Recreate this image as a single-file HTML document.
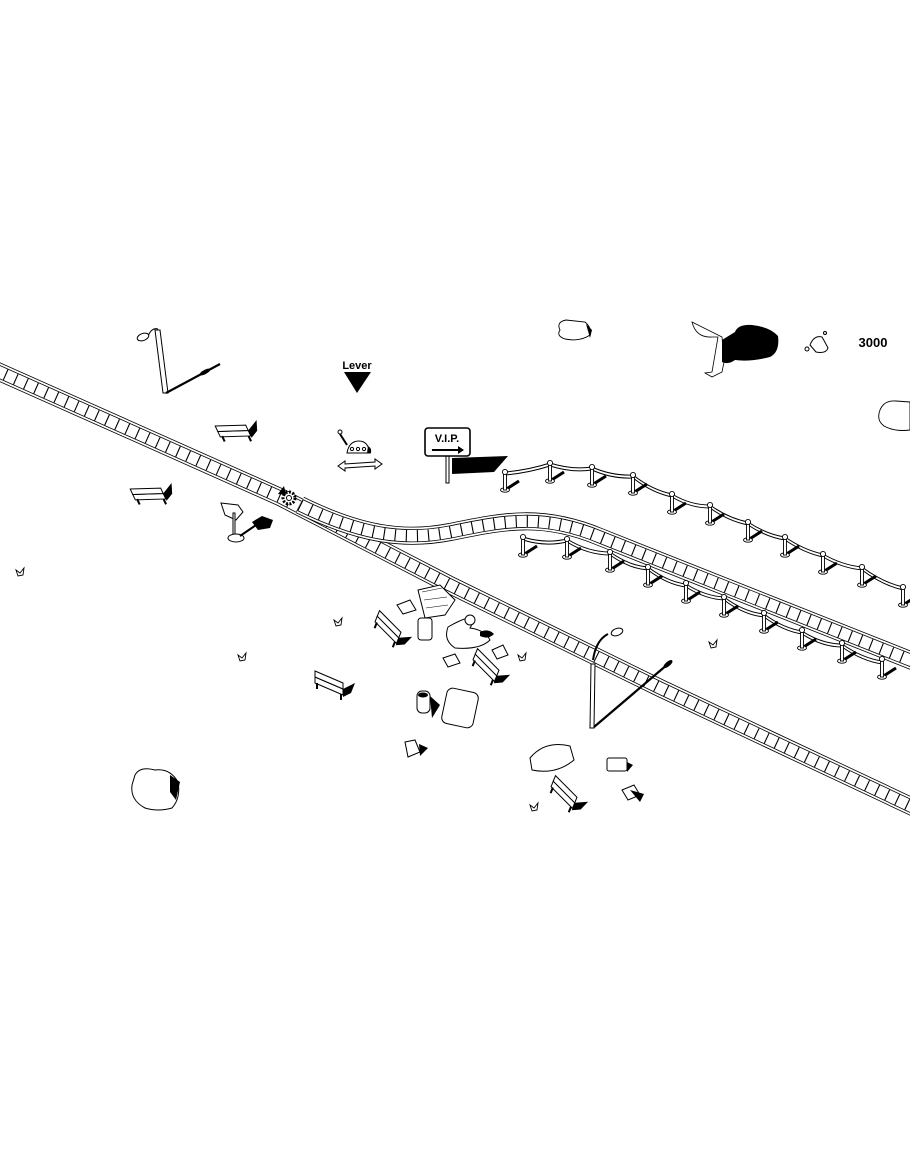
<!DOCTYPE html>
<html><head><meta charset="utf-8"><style>
html,body{margin:0;padding:0;background:#fff;}
svg{display:block;}
</style></head><body>
<svg width="910" height="1155" viewBox="0 0 910 1155" xmlns="http://www.w3.org/2000/svg">
<defs>
<g id="post">
  <path d="M0,0 L14,-9" stroke="#000" stroke-width="3"/>
  <ellipse cx="0" cy="0" rx="4.5" ry="2.2" fill="#fff" stroke="#000" stroke-width="0.9"/>
  <rect x="-1.5" y="-17" width="3" height="17" fill="#fff" stroke="#000" stroke-width="0.9"/>
  <circle cx="0" cy="-18" r="2.6" fill="#fff" stroke="#000" stroke-width="0.9"/>
</g>
<g id="bench">
  <path d="M-14,-6 L14,6 L14,12 L-14,0 Z" fill="#fff" stroke="#000" stroke-width="1"/>
  <path d="M-14,-12 L14,0 L14,6 L-14,-6 Z" fill="#fff" stroke="#000" stroke-width="1"/>
  <path d="M-12,0 L-12,6 M12,11 L12,17" stroke="#000" stroke-width="2"/>
  <path d="M14,6 L26,0 L22,10 L14,14 Z" fill="#000"/>
</g>
<g id="bird">
  <path d="M0,0 L4,3 L8,-2 L7,5 L2,6 Z" fill="#fff" stroke="#000" stroke-width="0.9"/>
</g>
<path id="p1" d="M-5,370 L280,497 L450,585 L660,688 L915,808"/>
<path id="p2" d="M300,505 C355,532 400,542 450,532 S540,512 600,537 L915,662"/>
</defs>

<g fill="none">
<use href="#p1" stroke="#000" stroke-width="18"/>
<use href="#p1" stroke="#fff" stroke-width="16.4"/>
<use href="#p1" stroke="#000" stroke-width="13"/>
<use href="#p1" stroke="#fff" stroke-width="11.4"/>
<use href="#p1" stroke="#000" stroke-width="11.4" stroke-dasharray="1.1 10"/>
</g>
<g fill="none">
<use href="#p2" stroke="#000" stroke-width="18"/>
<use href="#p2" stroke="#fff" stroke-width="16.4"/>
<use href="#p2" stroke="#000" stroke-width="13"/>
<use href="#p2" stroke="#fff" stroke-width="11.4"/>
<use href="#p2" stroke="#000" stroke-width="11.4" stroke-dasharray="1.1 10"/>
</g>

<g fill="none" stroke="#000" stroke-width="1">
<path d="M505,472 Q528,470 550,463 Q572,470 592,467 Q612,476 633,475 Q652,490 672,494 Q690,505 710,505 Q728,518 748,522 Q766,534 785,537 Q804,550 823,554 Q842,565 862,567 Q882,582 903,587"/>
<path d="M505,475 Q528,473 550,466 Q572,473 592,470 Q612,479 633,478 Q652,493 672,497 Q690,508 710,508 Q728,521 748,525 Q766,537 785,540 Q804,553 823,557 Q842,568 862,570 Q882,585 903,590"/>
<path d="M523,537 Q545,544 567,539 Q588,552 610,552 Q630,566 648,567 Q668,582 686,584 Q705,596 724,597 Q744,612 764,614 Q783,628 802,631 Q822,644 842,644 Q862,658 882,661"/>
<path d="M523,540 Q545,547 567,542 Q588,555 610,555 Q630,569 648,570 Q668,585 686,587 Q705,599 724,600 Q744,615 764,617 Q783,631 802,634 Q822,647 842,647 Q862,661 882,664"/>
</g>
<use href="#post" x="505" y="490"/><use href="#post" x="550" y="481"/><use href="#post" x="592" y="485"/>
<use href="#post" x="633" y="493"/><use href="#post" x="672" y="512"/><use href="#post" x="710" y="523"/>
<use href="#post" x="748" y="540"/><use href="#post" x="785" y="555"/><use href="#post" x="823" y="572"/>
<use href="#post" x="862" y="585"/><use href="#post" x="903" y="605"/>
<use href="#post" x="523" y="555"/><use href="#post" x="567" y="557"/><use href="#post" x="610" y="570"/>
<use href="#post" x="648" y="585"/><use href="#post" x="686" y="601"/><use href="#post" x="724" y="615"/>
<use href="#post" x="764" y="631"/><use href="#post" x="802" y="648"/><use href="#post" x="842" y="661"/>
<use href="#post" x="882" y="677"/>

<g stroke="#000" fill="#fff" stroke-width="1">
<path d="M155,330 L160,330 L168,393 L163,393 Z"/>
<path d="M148,336 Q152,327 158,329" fill="none"/>
<ellipse cx="143" cy="337" rx="6" ry="3.5" transform="rotate(-20 143 337)"/>
<path d="M166,393 L220,364" stroke-width="2.2"/>
<ellipse cx="205" cy="372" rx="5" ry="1.6" fill="#000" transform="rotate(-28 205 372)"/>
</g>

<text x="357" y="369" text-anchor="middle" font-family="Liberation Sans, sans-serif" font-weight="bold" font-size="11">Lever</text>
<path d="M344,372 L371,372 L357,393 Z" fill="#000"/>
<g stroke="#000" fill="#fff" stroke-width="1">
<path d="M347,453 Q349,441 359,441 Q368,441 370,453 Z"/>
<circle cx="352" cy="449" r="1.6"/><circle cx="358" cy="449" r="1.6"/><circle cx="364" cy="449" r="1.6"/>
<path d="M347,445 L340,434" stroke-width="2"/>
<circle cx="340" cy="432" r="2"/>
<path d="M338,466 L345,461 L345,464 L375,462 L375,459 L382,464 L375,469 L375,466 L345,468 L345,471 Z"/>
</g>
<path d="M368,446 Q372,448 371,453 L367,453 Z" fill="#000"/>

<path d="M452,458 L508,456 L494,472 L452,474 Z" fill="#000"/>
<g stroke="#000" fill="#fff">
<rect x="446" y="455" width="3" height="28" stroke-width="1"/>
<rect x="425" y="428" width="45" height="28" rx="3" stroke-width="1.6"/>
</g>
<text x="447" y="442" text-anchor="middle" font-family="Liberation Sans, sans-serif" font-weight="bold" font-size="11">V.I.P.</text>
<path d="M432,449 L458,449 L458,446 L464,450 L458,454 L458,451 L432,451 Z" fill="#000"/>

<use href="#bench" x="233" y="431" transform="rotate(-25 233 431)"/>
<use href="#bench" x="148" y="494" transform="rotate(-25 148 494)"/>

<g stroke="#000" fill="#fff" stroke-width="1">
<path d="M221,503 L238,505 L243,512 L236,520 L225,515 Z"/>
<rect x="233" y="513" width="2" height="24"/>
<ellipse cx="236" cy="538" rx="8" ry="4"/>
</g>
<path d="M240,536 L262,521" stroke="#000" stroke-width="2"/>
<path d="M252,522 L262,516 L273,520 L270,528 L258,530 Z" fill="#000"/>
<circle cx="289" cy="498" r="6" fill="#fff" stroke="#000" stroke-width="3" stroke-dasharray="2 1.5"/>
<circle cx="289" cy="498" r="2.5" fill="#fff" stroke="#000"/>
<path d="M278,494 L284,486 L286,495 Z" fill="#000"/>

<path d="M560,330 Q556,322 566,320 L585,322 Q592,328 590,335 Q580,342 565,339 Q556,336 560,330 Z" fill="#fff" stroke="#000" stroke-width="0.9"/>
<path d="M586,324 L592,330 L590,338 Z" fill="#000"/>
<path d="M880,410 Q884,400 896,401 L910,402 L910,430 Q895,432 884,426 Q876,420 880,410 Z" fill="#fff" stroke="#000" stroke-width="0.9"/>
<path d="M135,775 Q140,766 155,770 Q170,768 178,782 Q181,798 172,808 Q158,812 145,808 Q130,800 132,785 Z" fill="#fff" stroke="#000" stroke-width="1"/>
<path d="M170,775 L180,782 L176,800 L170,792 Z" fill="#000"/>
<path d="M692,322 Q696,338 712,337 L718,337 L712,372 L705,373 L712,377 L722,372 L724,362 L722,337 Z" fill="#fff" stroke="#000" stroke-width="0.8"/>
<path d="M735,332 Q738,324 752,325 Q770,327 778,336 Q780,352 770,357 Q750,362 735,360 Q728,365 722,362 L722,340 Z" fill="#000"/>
<path d="M810,345 Q814,335 822,337 Q826,344 828,348 Q826,354 816,352 Z" fill="#fff" stroke="#000"/>
<circle cx="807" cy="349" r="2" fill="#fff" stroke="#000"/>
<circle cx="825" cy="333" r="1.5" fill="#fff" stroke="#000"/>
<text x="873" y="347" text-anchor="middle" font-family="Liberation Sans, sans-serif" font-weight="bold" font-size="13">3000</text>

<g stroke="#000" fill="#fff" stroke-width="1">
<path d="M591,664 L595,664 L594,728 L590,728 Z"/>
<path d="M593,660 Q596,640 608,634" fill="none" stroke-width="2"/>
<ellipse cx="617" cy="632" rx="6" ry="3.5" transform="rotate(-20 617 632)"/>
<path d="M594,727 L668,664" stroke-width="2.2"/>
<ellipse cx="668" cy="664" rx="5" ry="1.8" fill="#000" transform="rotate(-40 668 664)"/>
</g>

<g stroke="#000" fill="#fff" stroke-width="1">
<path d="M418,590 L440,585 L455,600 L445,615 L425,618 Z"/>
<path d="M422,592 L442,588 M424,600 L447,597 M426,608 L448,605" fill="none" stroke-width="0.6"/>
<rect x="418" y="618" width="14" height="22" rx="3"/>
<path d="M448,627 Q460,620 468,618 Q475,620 470,628 Q485,630 490,640 Q480,650 455,648 Q443,640 448,627 Z"/>
<circle cx="470" cy="620" r="5"/>
<rect x="417" y="691" width="13" height="22" rx="5"/>
<rect x="444" y="690" width="32" height="36" rx="6" transform="rotate(12 460 708)"/>
<path d="M405,742 L415,740 L420,752 L408,757 Z"/>
<path d="M530,758 Q545,740 570,746 L574,760 Q556,775 532,770 Z"/>
<rect x="607" y="758" width="20" height="13" rx="2"/>
<path d="M397,605 L410,600 L416,610 L403,614 Z"/>
<path d="M443,658 L455,654 L460,663 L448,667 Z"/>
<path d="M492,650 L503,645 L508,655 L497,659 Z"/>
<path d="M622,790 L634,785 L640,795 L628,800 Z"/>
</g>
<path d="M480,632 Q488,628 494,634 Q488,640 480,636 Z" fill="#000"/>
<ellipse cx="423" cy="695" rx="5" ry="2.5" fill="#000"/>
<path d="M430,696 L440,705 L432,718 Z" fill="#000"/>
<path d="M419,744 L428,748 L420,756 Z" fill="#000"/>
<path d="M627,762 L633,765 L627,772 Z" fill="#000"/>
<path d="M630,790 L644,794 L640,802 Z" fill="#000"/>

<use href="#bench" x="388" y="627" transform="rotate(22 388 627)"/>
<use href="#bench" x="486" y="665" transform="rotate(22 486 665)"/>
<use href="#bench" x="564" y="792" transform="rotate(22 564 792)"/>
<use href="#bench" x="329" y="683"/>

<use href="#bird" x="16" y="570"/><use href="#bird" x="238" y="655"/>
<use href="#bird" x="334" y="620"/><use href="#bird" x="518" y="655"/>
<use href="#bird" x="709" y="642"/><use href="#bird" x="530" y="805"/>
</svg>
</body></html>
